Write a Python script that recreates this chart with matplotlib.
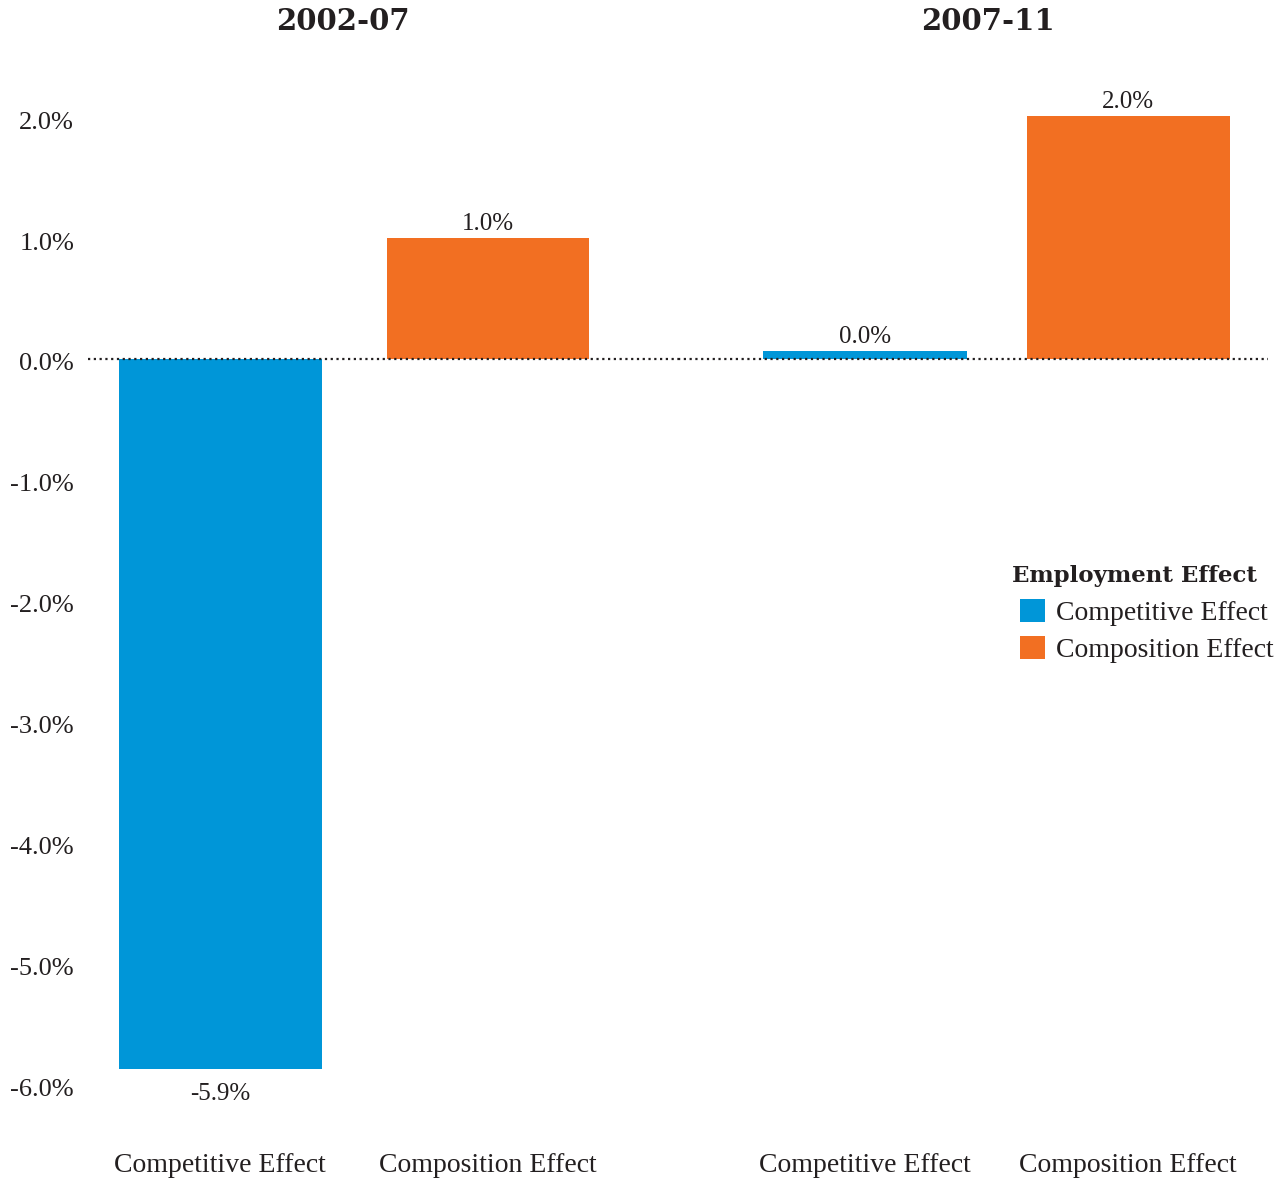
import matplotlib
matplotlib.use("Agg")
import matplotlib.pyplot as plt
from matplotlib.patches import Patch
from matplotlib.transforms import ScaledTranslation

periods = ["2002-07", "2007-11"]
categories = ["Competitive Effect", "Composition Effect"]
values_0207 = [-5.87, 1.0]
values_0711 = [0.07, 2.01]
labels_0207 = ["-5.9%", "1.0%"]
labels_0711 = ["0.0%", "2.0%"]
yticks = [2.0, 1.0, 0.0, -1.0, -2.0, -3.0, -4.0, -5.0, -6.0]
ytick_labels = ["2.0%", "1.0%", "0.0%", "-1.0%", "-2.0%", "-3.0%", "-4.0%", "-5.0%", "-6.0%"]

BLUE = "#0096D8"
ORANGE = "#F26F22"
TXT = "#231F20"
SERIF = "Liberation Serif"
HEAVY = "DejaVu Serif"

W, H = 1283, 1179
fig = plt.figure(figsize=(W / 100, H / 100), dpi=100)

def px_axes(x0, x1, ytop, ybot):
    return fig.add_axes([x0 / W, 1 - ybot / H, (x1 - x0) / W, (ybot - ytop) / H])

ytop, ybot = 60, 1110
ylim = (-6.212, 2.473)
ax1 = px_axes(88, 678, ytop, ybot)
ax2 = px_axes(678, 1268, ytop, ybot)

panels = [
    (ax1, values_0207, labels_0207, (-0.493, 1.709), 0.757),
    (ax2, values_0711, labels_0711, (-0.711, 1.532), 0.772),
]
for i, (ax, vals, labs, xl, bw) in enumerate(panels):
    bars = ax.bar([0, 1], vals, width=bw, color=[BLUE, ORANGE], zorder=2)
    anns = ax.bar_label(bars, labels=labs, padding=2, fontsize=18, family=SERIF, color=TXT)
    for a, v in zip(anns, vals):
        if v < 0:
            a.xyann = (0, -10)
    ax.axhline(0, color=TXT, linestyle=(0, (1, 1.6)), linewidth=1.6, zorder=3)
    ax.set_xlim(*xl)
    ax.set_ylim(*ylim)
    ax.set_xticks([0, 1])
    ax.set_xticklabels(categories, fontsize=20, family=SERIF, color=TXT)
    ax.tick_params(axis="x", length=0, pad=31)
    for s in ax.spines.values():
        s.set_visible(False)
    if i == 0:
        ax.set_yticks(yticks)
        ax.set_yticklabels(ytick_labels, fontsize=19, family=SERIF, color=TXT)
        ax.tick_params(axis="y", length=0, pad=10)
        off = ScaledTranslation(0, -3 / 100, fig.dpi_scale_trans)
        for lab in ax.get_yticklabels():
            lab.set_transform(lab.get_transform() + off)
    else:
        ax.set_yticks([])

fig.text(343 / W, 1 - 22 / H, periods[0], ha="center", va="center", fontsize=21,
         family=HEAVY, fontweight="bold", color=TXT)
fig.text(988 / W, 1 - 22 / H, periods[1], ha="center", va="center", fontsize=21,
         family=HEAVY, fontweight="bold", color=TXT)

fig.text(1012 / W, 1 - 576 / H, "Employment Effect", ha="left", va="center", fontsize=16.5,
         family=HEAVY, fontweight="bold", color=TXT)
handles = [Patch(facecolor=BLUE, edgecolor="none"), Patch(facecolor=ORANGE, edgecolor="none")]
leg = fig.legend(handles, categories, loc="upper left", bbox_to_anchor=(1020 / W, 1 - 599 / H),
                 frameon=False, prop={"family": SERIF, "size": 20}, borderpad=0,
                 borderaxespad=0, handlelength=0.9, handleheight=0.9, handletextpad=0.4,
                 labelspacing=0.36)
for t in leg.get_texts():
    t.set_color(TXT)

fig.savefig("out.png", dpi=100)
